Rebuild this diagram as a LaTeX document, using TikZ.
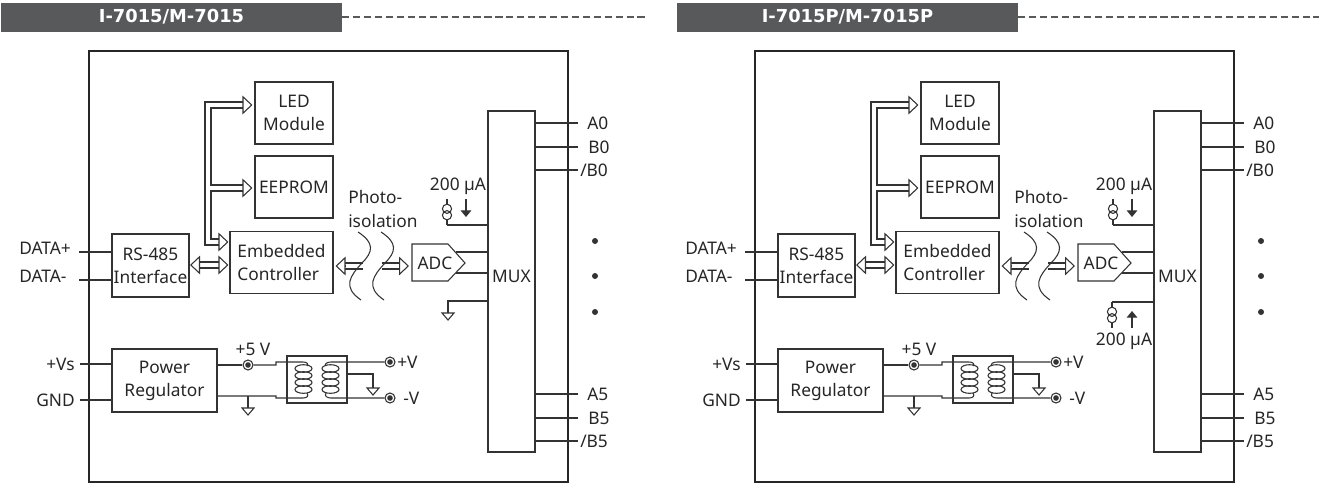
\documentclass[tikz,border=0pt]{standalone}
\usepackage{fontspec}
\setmainfont{Noto Sans}
\newfontfamily\headfont{DejaVu Sans}
\usetikzlibrary{arrows.meta,calc}

\definecolor{inkgray}{HTML}{333333}
\definecolor{headgray}{HTML}{58595B}

\tikzset{
	blockbox/.style={draw=inkgray,line width=0.8pt,align=center,inner sep=0pt,text=black!85},
	lbl/.style={inner sep=0pt,text=black!85},
	wire/.style={draw=inkgray,line width=0.8pt},
	buswall/.style={draw=inkgray,line width=0.8pt},
	bushead/.tip={Triangle[length=7.5pt,width=14pt,fill=white,line width=0.8pt]},
	bustip/.style={draw=inkgray,line width=0.8pt,-{bushead}},
	smallhead/.tip={Triangle[length=5pt,width=8pt,inkgray]},
	termring/.style={circle,draw=inkgray,line width=0.8pt,fill=white,minimum size=7.5pt,inner sep=0pt,
		path picture={\fill[inkgray] (path picture bounding box.center) circle (2.1pt);}},
	headbar/.style={fill=headgray,text=white,font=\headfont\bfseries\fontsize{13.4}{15}\selectfont,
		minimum width=255.75pt,minimum height=21.75pt,inner sep=0pt},
	dashrule/.style={draw=headgray,line width=0.8pt,dash pattern=on 5.4pt off 2.8pt},
	gnd/.pic={\draw[wire] (-6,0) -- (6,0) -- (0,7) -- cycle;},
	isrc/.pic={\draw[wire] (0,-13) -- (0,-8) (0,8) -- (0,13);
		\draw[wire] (0,-3.2) circle (4.6) (0,3.2) circle (4.6);},
	coil/.pic={\foreach \cy in {-10.5,-3.5,3.5,10.5} \draw[wire] (0,\cy) ellipse (8.5 and 3.8);},
}

\begin{document}
\begin{tikzpicture}[x=0.75pt,y=-0.75pt,font=\fontsize{13}{17.3}\selectfont]
	\useasboundingbox (0,0) rectangle (1319,483);

	% title bars
	\node[headbar] (titleA) at (171.5,17) {I-7015/M-7015};
	\node[headbar] (titleB) at (847.5,17) {I-7015P/M-7015P};
	\coordinate (dashA) at (645,17);
	\coordinate (dashB) at (1319,17);
	\draw[dashrule] (titleA.east) -- (dashA);
	\draw[dashrule] (titleB.east) -- (dashB);

	\foreach \pnl/\px in {pa/0,pb/666}{
	\begin{scope}[xshift=\px*0.75,name prefix=\pnl-]
		\draw[wire,draw=black!85] (89,51) rectangle (568,482);

		% blocks
		\node[blockbox,minimum width=58.5pt,minimum height=46.5pt] (led) at (294,113) {LED\\Module};
		\node[blockbox,minimum width=58.5pt,minimum height=46.5pt] (eeprom) at (294,187) {EEPROM};
		\node[blockbox,minimum width=77.25pt,minimum height=46.5pt,align=left] (ctrl) at (281.5,262.5) {Embedded\\Controller};
		\node[blockbox,minimum width=57.75pt,minimum height=47.25pt] (rs) at (150.5,265.5) {RS-485\\Interface};
		\node[blockbox,minimum width=78.75pt,minimum height=47.25pt] (reg) at (164.5,380.5) {Power\\Regulator};
		\node[blockbox,minimum width=35.25pt,minimum height=255.75pt] (mux) at (511.5,281.5) {};
		\node[lbl] (muxlbl) at (511.5,276) {MUX};
		\node[blockbox,minimum width=45pt,minimum height=35.25pt] (xfmr) at (317,379.5) {};

		% serial side
		\node[lbl,anchor=west] (dataP) at (19,248) {DATA+};
		\node[lbl,anchor=west] (dataM) at (19,276) {DATA-};
		\coordinate (dataPend) at (79,252);
		\coordinate (dataMend) at (79,280);
		\draw[wire] (dataPend) -- (rs.west |- dataPend);
		\draw[wire] (dataMend) -- (rs.west |- dataMend);

		% hollow buses
		\draw[buswall] (220,245) -- (205,245) -- (205,102) -- (244,102);
		\draw[buswall] (244,108) -- (211,108) -- (211,185) -- (244,185);
		\draw[buswall] (244,191) -- (211,191) -- (211,239) -- (220,239);
		\draw[bustip] (219,242) -- ($(ctrl.west)+(-1,-20.5)$);
		\draw[bustip] (243,105) -- ($(led.west)+(-2,-8)$);
		\draw[bustip] (243,188) -- ($(eeprom.west)+(-2,1)$);
		\draw[buswall] (198,262) -- (220,262) (198,268) -- (220,268);
		\draw[bustip] (199,265) -- ($(rs.east)+(0.5,-0.5)$);
		\draw[bustip] (219,265) -- ($(ctrl.west)+(-1,2.5)$);

		% isolation
		\draw[buswall] (344,263) -- (363,263) (344,269) -- (363,269);
		\draw[bustip] (345,266) -- ($(ctrl.east)+(2,3.5)$);
		\draw[buswall] (382,263) -- (400,263) (382,269) -- (400,269);
		\draw[bustip] (399,266) -- (409,266);
		\draw[wire] (358,232) .. controls (375,243) and (373,252) .. (362,263) .. controls (350,276) and (342,287) .. (361,300);
		\draw[wire] (381,232) .. controls (398,243) and (396,252) .. (385,263) .. controls (373,276) and (365,287) .. (384,300);
		\node[lbl,align=left,anchor=west] (photo) at (348,209) {Photo-\\isolation};

		% converter
		\draw[wire] (412,244) -- (448,244) -- (465,263) -- (448,281) -- (412,281) -- cycle;
		\node[lbl] (adc) at (435,263) {ADC};
		\coordinate (adcT) at (456,252);
		\coordinate (adcB) at (456,273);
		\draw[wire] (adcT) -- (mux.west |- adcT);
		\draw[wire] (adcB) -- (mux.west |- adcB);

		% top source
		\node[lbl] (srcT) at (458,186) {200 µA};
		\pic at (447,212) {isrc};
		\coordinate (srcTpin) at (447,225);
		\draw[wire] (srcTpin) -- (mux.west |- srcTpin);
		\draw[wire,-{smallhead}] (466,199) -- (466,217);

		% channel pins
		\foreach \pin/\py/\lx/\ptxt in {a0/123/587/A0,b0/147/588/B0,c0/170/580/{/B0},a5/394/587/A5,b5/418/588/B5,c5/441/580/{/B5}}{
			\coordinate (\pin end) at (578,\py);
			\node[lbl,anchor=west] (\pin) at (\lx,\py) {\ptxt};
			\draw[wire] (mux.east |- \pin end) -- (\pin end);
		}
		\foreach \dy in {241,276,312} \fill[inkgray] (595,\dy) circle (3);

		% supply side
		\node[lbl,anchor=east] (vs) at (75,364) {+Vs};
		\node[lbl,anchor=east] (gnd) at (75,400) {GND};
		\coordinate (vsend) at (80,364);
		\coordinate (gndend) at (80,400);
		\draw[wire] (vsend) -- (reg.west |- vsend);
		\draw[wire] (gndend) -- (reg.west |- gndend);

		\node[lbl] (fivev) at (253,349) {+5 V};
		\node[termring] (tp) at (248,365) {};
		\node[termring] (vp) at (390,362) {};
		\node[termring] (vm) at (390,398) {};
		\node[lbl,anchor=west] (vpl) at (397,362) {+V};
		\node[lbl,anchor=west] (vml) at (403,398) {-V};

		\pic at (303.5,379) {coil};
		\pic at (330.5,379) {coil};
		\draw[wire] (reg.east |- tp) -- (tp);
		\draw[wire] (tp) -- (276,365) -- (276,362) -- (303,362) .. controls (307,362) and (309,364) .. (307,366);
		\draw[wire] (reg.east |- 0,396) -- (276,396) -- (276,398) -- (303,398) .. controls (307,398) and (309,396) .. (307,393);
		\draw[wire] (vp) -- (331,362) .. controls (327,362) and (324,364) .. (326,366);
		\draw[wire] (vm) -- (331,398) .. controls (327,398) and (324,396) .. (326,393);
		\draw[wire] (248,396) -- (248,408);
		\pic at (248,408) {gnd};
		\draw[wire] (xfmr.east |- 0,374) -- (373,374) -- (373,388);
		\pic at (373,388) {gnd};
	\end{scope}
	}

	% left panel: tied to ground below the converter
	\begin{scope}[name prefix=pa-]
		\coordinate (muxgnd) at (448,301);
		\draw[wire] (mux.west |- muxgnd) -- (muxgnd) -- (448,313);
		\pic at (448,313) {gnd};
	\end{scope}

	% right panel: second source below the converter
	\begin{scope}[xshift=666*0.75,name prefix=pb-]
		\coordinate (srcBpin) at (446,302);
		\draw[wire] (mux.west |- srcBpin) -- (srcBpin);
		\pic at (446,315) {isrc};
		\draw[wire,-{smallhead}] (466,328) -- (466,311);
		\node[lbl] (srcB) at (458,341) {200 µA};
	\end{scope}
\end{tikzpicture}
\end{document}
